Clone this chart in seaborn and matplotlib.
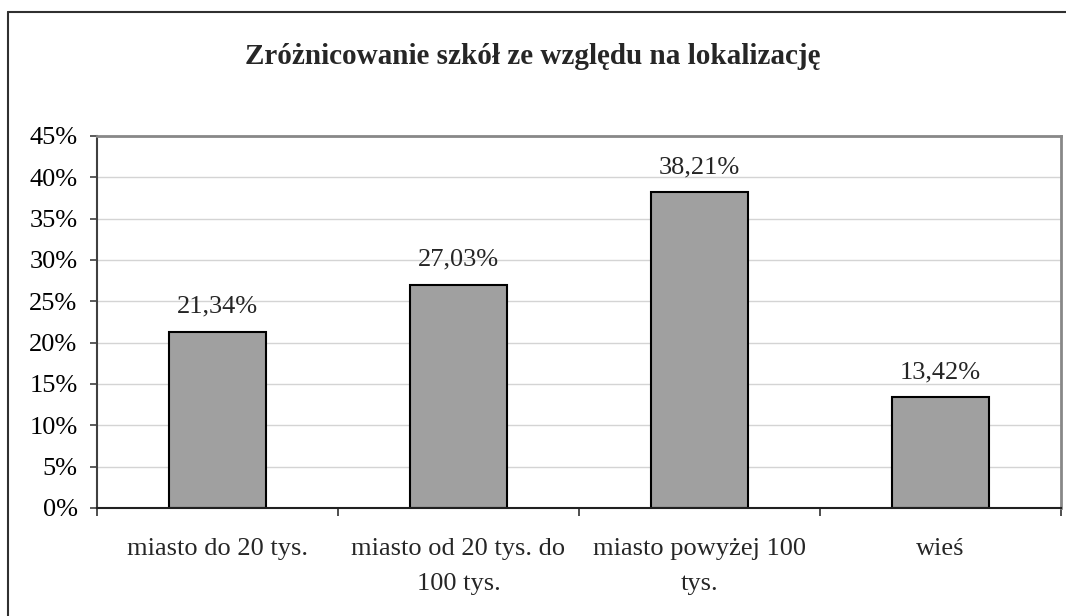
import numpy as np
import matplotlib.pyplot as plt
import pandas as pd
import seaborn as sns
from matplotlib.lines import Line2D

categories = ['miasto do 20 tys.', 'miasto od 20 tys. do\n100 tys.',
              'miasto powyżej 100\ntys.', 'wieś']
shares = [21.34, 27.03, 38.21, 13.42]
y_ticks = [0, 5, 10, 15, 20, 25, 30, 35, 40, 45]
title = 'Zróżnicowanie szkół ze względu na lokalizację'

sns.set_theme(style='white')
plt.rcParams['font.family'] = ['Liberation Serif', 'DejaVu Serif']

df = pd.DataFrame({'kat': categories, 'udzial': shares})

fig = plt.figure(figsize=(10.66, 6.16), dpi=100)
ax = fig.add_axes([97 / 1066, 1 - 508 / 616, (1061 - 97) / 1066, (508 - 136) / 616])

sns.barplot(data=df, x='kat', y='udzial', color='#a0a0a0', edgecolor='black',
            linewidth=1.5, width=0.4, saturation=1, ax=ax)

ax.set_ylim(0, 45)
ax.set_xlim(-0.5, 3.5)
ax.set_yticks(y_ticks)
ax.set_yticklabels([f'{t}%' for t in y_ticks])
ax.yaxis.grid(True, color='#d4d4d4', linewidth=1)
ax.set_axisbelow(True)
ax.set_xlabel('')
ax.set_ylabel('')

ax.tick_params(axis='y', which='major', direction='out', length=5, width=1.2,
               color='#404040', left=True, pad=9, labelsize=19, labelcolor='black')
ax.set_xticks(range(len(categories)))
ax.set_xticklabels(categories, fontsize=19, linespacing=1.75)
ax.tick_params(axis='x', which='major', length=0, pad=21.5)
ax.set_xticks(np.arange(-0.5, 4, 1), minor=True)
ax.tick_params(axis='x', which='minor', direction='out', length=6, width=1.2,
               color='#303030', bottom=True)

for side in ['top', 'right']:
    ax.spines[side].set_color('#888888')
    ax.spines[side].set_linewidth(2)
ax.spines['left'].set_color('#404040')
ax.spines['left'].set_linewidth(1.5)
ax.spines['bottom'].set_color('#202020')
ax.spines['bottom'].set_linewidth(1.5)

labels = [f'{v:.2f}%'.replace('.', ',') for v in shares]
ax.bar_label(ax.containers[0], labels=labels, padding=10, fontsize=19)

fig.text(0.5, 1 - 56 / 616, title, ha='center', va='center',
         fontsize=21, fontweight='bold')

# outer chart frame (only left and top edges visible)
fig.add_artist(Line2D([8 / 1066, 8 / 1066], [0, 1 - 12 / 616],
                      transform=fig.transFigure, color='#303030', linewidth=1.5))
fig.add_artist(Line2D([8 / 1066, 1], [1 - 12 / 616, 1 - 12 / 616],
                      transform=fig.transFigure, color='#303030', linewidth=1.5))

fig.savefig('out.png', dpi=100)
